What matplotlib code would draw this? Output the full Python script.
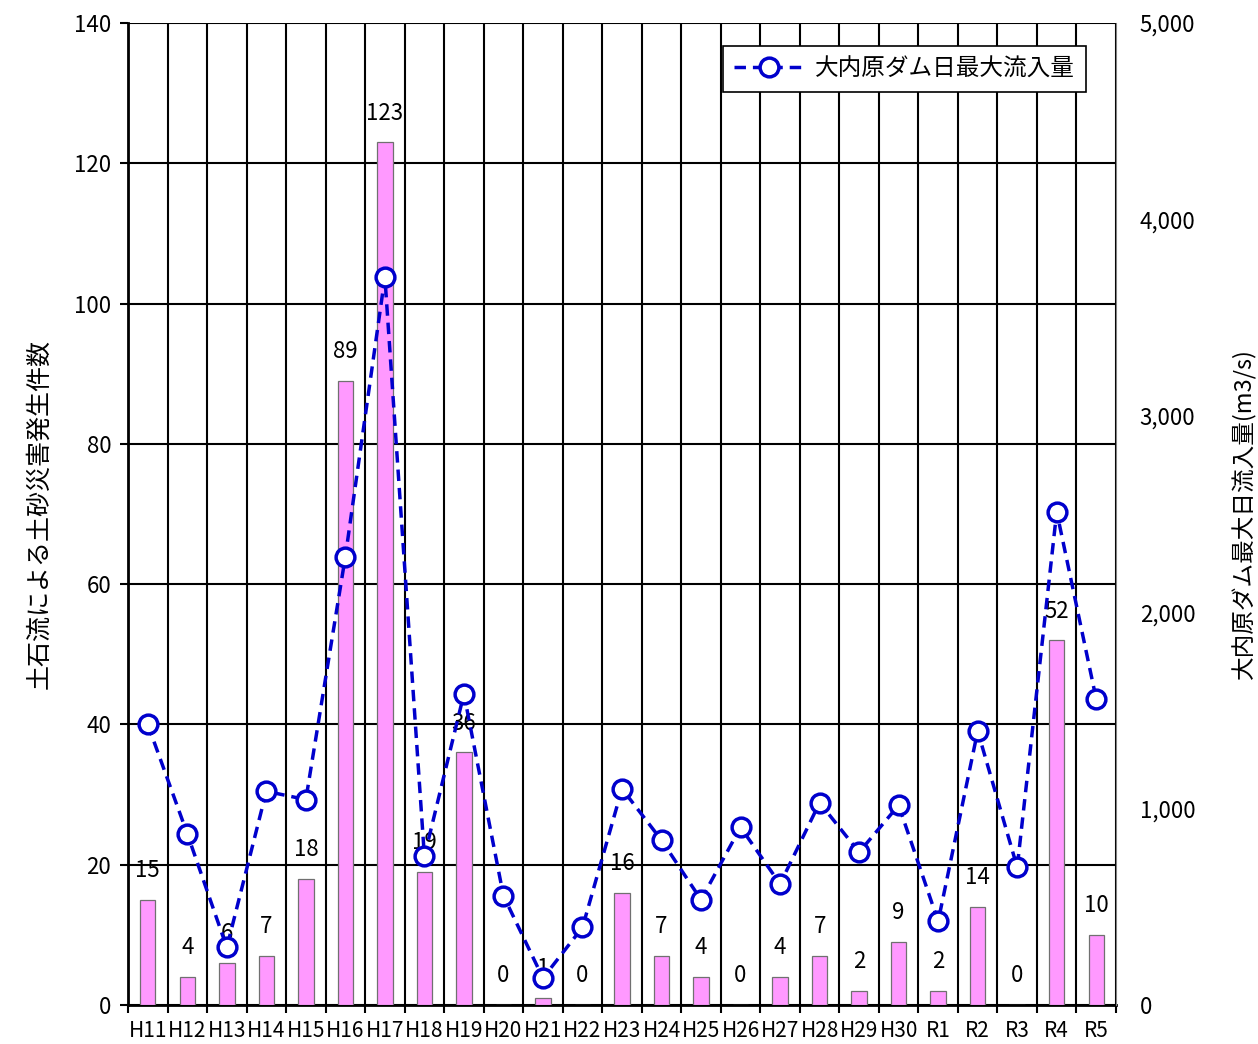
import numpy as np
import matplotlib
matplotlib.use("Agg")
import matplotlib.pyplot as plt
from matplotlib.ticker import FuncFormatter, MultipleLocator

plt.rcParams["font.family"] = ["Noto Sans CJK JP", "DejaVu Sans"]

years = ["H11", "H12", "H13", "H14", "H15", "H16", "H17", "H18", "H19", "H20",
         "H21", "H22", "H23", "H24", "H25", "H26", "H27", "H28", "H29", "H30",
         "R1", "R2", "R3", "R4", "R5"]
disasters = [15, 4, 6, 7, 18, 89, 123, 19, 36, 0,
             1, 0, 16, 7, 4, 0, 4, 7, 2, 9,
             2, 14, 0, 52, 10]
inflow = [1429, 872, 293, 1088, 1046, 2283, 3706, 757, 1584, 556,
          137, 395, 1101, 839, 536, 905, 616, 1030, 778, 1017,
          426, 1395, 701, 2511, 1557]

x = np.arange(len(years))

fig = plt.figure(figsize=(12.58, 10.44), dpi=100)
ax = fig.add_axes([128 / 1258, 1 - 1005 / 1044, 988 / 1258, 982 / 1044])

ax.bar(x, disasters, width=0.39, color="#ff99ff", edgecolor="#707070", linewidth=0.9, zorder=3)
for xi, v in zip(x, disasters):
    ax.annotate(str(v), (xi, v), xytext=(0, 21), textcoords="offset points",
                ha="center", va="center", fontsize=16, zorder=5)

ax.set_xlim(-0.5, len(years) - 0.5)
ax.set_ylim(0, 140)
ax.yaxis.set_major_locator(MultipleLocator(20))
ax.set_xticks(x)
ax.set_xticklabels(years, fontsize=15)
ax.set_xticks(np.arange(-0.5, len(years), 1), minor=True)
ax.tick_params(axis="x", which="major", length=0, pad=11)
ax.tick_params(axis="x", which="minor", length=6, width=1.5, direction="out")
ax.tick_params(axis="y", labelsize=16, length=6, width=1.5, direction="out", pad=6)
ax.grid(True, axis="y", which="major", color="black", linewidth=1.5, zorder=1)
ax.grid(True, axis="x", which="minor", color="black", linewidth=1.5, zorder=1)
ax.set_axisbelow(True)
for side in ["top", "right"]:
    ax.spines[side].set_visible(False)
ax.spines["left"].set_linewidth(2)
ax.spines["bottom"].set_linewidth(2)
ax.set_ylabel("土石流による土砂災害発生件数", fontsize=18, labelpad=16)

ax2 = ax.twinx()
ax2.plot(x, inflow, color="#0000cc", linestyle=(0, (3.3, 2.0)), linewidth=2.5,
         marker="o", markersize=13.5, markerfacecolor="white", markeredgewidth=2.5,
         label="大内原ダム日最大流入量", zorder=6)
ax2.set_ylim(0, 5000)
ax2.yaxis.set_major_locator(MultipleLocator(1000))
ax2.yaxis.set_major_formatter(FuncFormatter(lambda v, p: f"{int(v):,}"))
ax2.tick_params(axis="y", labelsize=16, length=0, pad=17)
for side in ["top", "left", "bottom"]:
    ax2.spines[side].set_visible(False)
ax2.spines["right"].set_color("#808080")
ax2.set_ylabel("大内原ダム最大日流入量(m3/s)", fontsize=17, labelpad=26)

leg = ax2.legend(loc="upper right", bbox_to_anchor=(0.970, 0.977), fontsize=17,
                 handlelength=2.9, handletextpad=0.5, fancybox=False, framealpha=1,
                 edgecolor="black", borderpad=0.5, borderaxespad=0)
leg.get_frame().set_linewidth(1.2)

fig.savefig("out.png", dpi=100)
